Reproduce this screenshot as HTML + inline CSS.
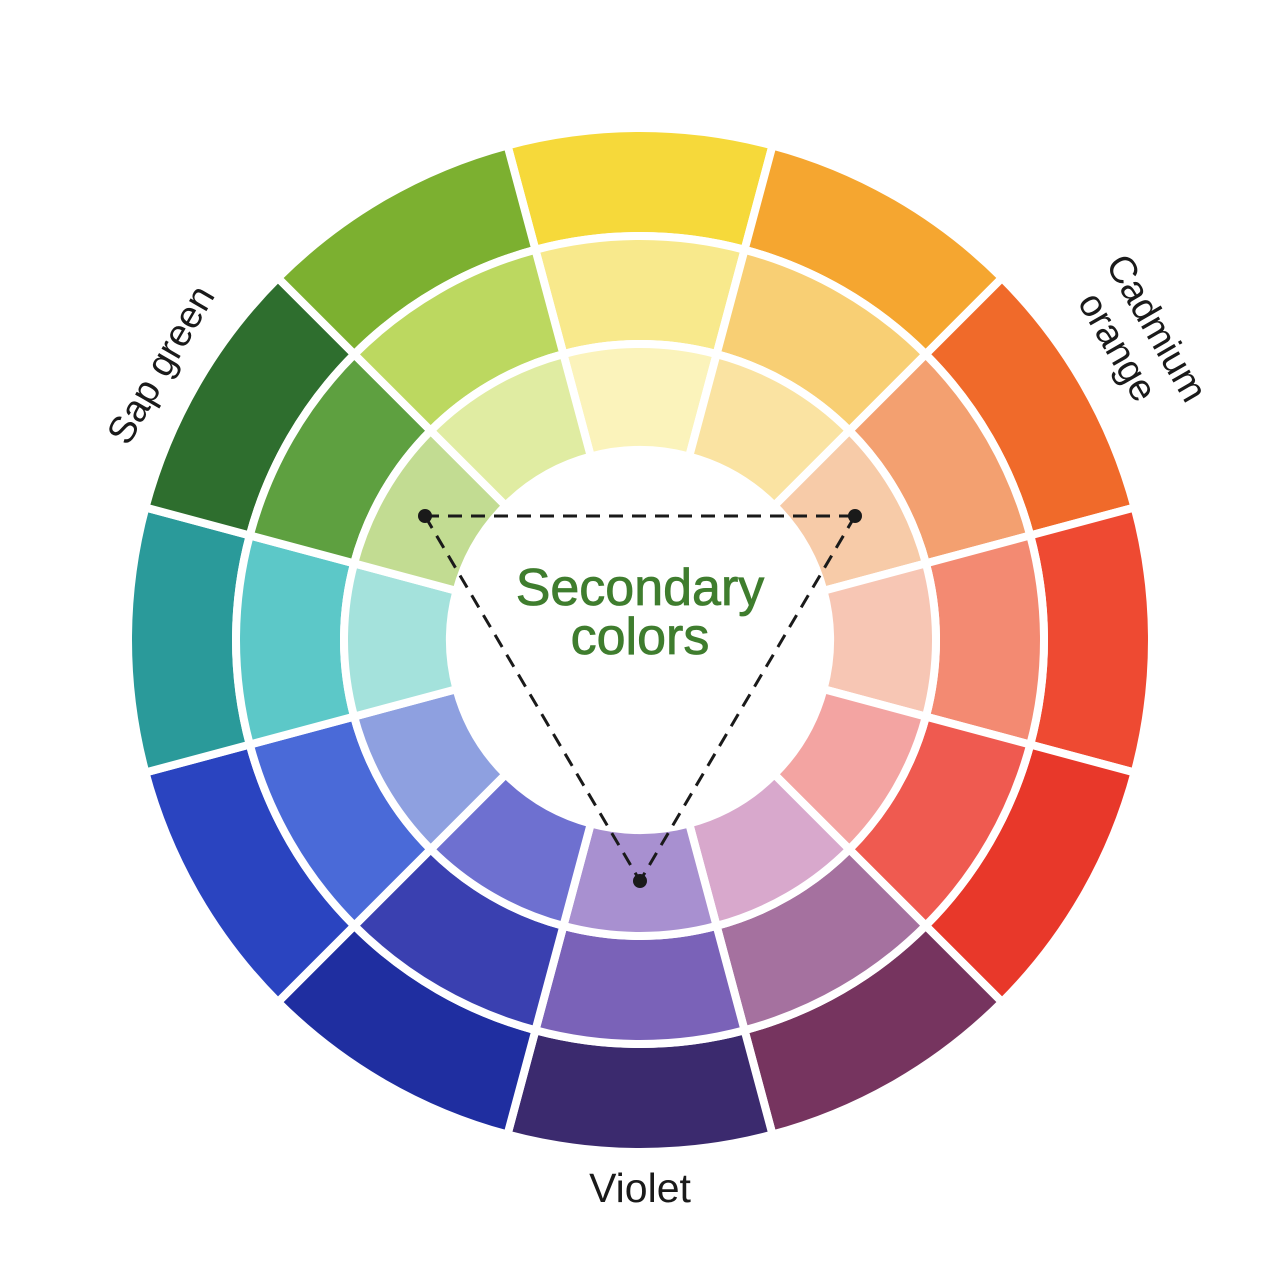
<!DOCTYPE html>
<html><head><meta charset="utf-8"><style>
html,body{margin:0;padding:0;background:#fff;}
svg{display:block;}
text{font-family:"Liberation Sans","DejaVu Sans",sans-serif;}
</style></head><body>
<svg id="s" width="1280" height="1280" viewBox="0 0 1280 1280" xmlns="http://www.w3.org/2000/svg">
<rect width="1280" height="1280" fill="#fff"/>
<g id="wheel"></g>
<g stroke="#1a1a1a" stroke-width="3" stroke-dasharray="14 9" fill="none">
<line x1="425" y1="516" x2="855" y2="516"/>
<line x1="425" y1="516" x2="640" y2="881"/>
<line x1="855" y1="516" x2="640" y2="881"/>
</g>
<circle cx="425" cy="516" r="7" fill="#1a1a1a"/>
<circle cx="855" cy="516" r="7" fill="#1a1a1a"/>
<circle cx="640" cy="881" r="7" fill="#1a1a1a"/>
<text x="640" y="605" text-anchor="middle" font-size="52" fill="#3f7d2e" stroke="#3f7d2e" stroke-width="0.8">Secondary</text>
<text x="640" y="654" text-anchor="middle" font-size="52" fill="#3f7d2e" stroke="#3f7d2e" stroke-width="0.8">colors</text>
<text x="640" y="1202" text-anchor="middle" font-size="41" fill="#1a1a1a">Violet</text>
<text transform="translate(128,447) rotate(-60)" font-size="38" fill="#1a1a1a">Sap green</text>
<text transform="translate(1105,264) rotate(60)" font-size="38" fill="#1a1a1a">Cadmium</text>
<text transform="translate(1077,302) rotate(60)" font-size="38" fill="#1a1a1a">orange</text>
</svg>
<script>
var cols=[
["#f6d93a","#f8e98c","#fbf3bb"],
["#f5a630","#f8cf74","#fae3a2"],
["#f06a2a","#f3a070","#f7cba8"],
["#ee4a32","#f38a72","#f7c6b4"],
["#e8382a","#ef5a50","#f3a4a2"],
["#76345f","#a5719f","#d8a8cc"],
["#3b2a6e","#7a62b8","#a890d0"],
["#1f2ea0","#3a40b0","#6e70d0"],
["#2a44c0","#4a6ad8","#8ea0e0"],
["#2a9a9a","#5cc8c8","#a4e2dc"],
["#2e6e2e","#5ea040","#c2dc92"],
["#7cb030","#bcd860","#e0eca2"]];
var radii=[[404,512],[296,404],[190,296]];
var cx=640,cy=640,g=document.getElementById('wheel'),NS="http://www.w3.org/2000/svg";
function p(r,a){a=a*Math.PI/180;return (cx+r*Math.sin(a)).toFixed(2)+" "+(cy-r*Math.cos(a)).toFixed(2);}
for(var i=0;i<12;i++){var a0=i*30-15,a1=i*30+15;
for(var k=0;k<3;k++){var r0=radii[k][0],r1=radii[k][1];
var d="M"+p(r1,a0)+" A"+r1+" "+r1+" 0 0 1 "+p(r1,a1)+" L"+p(r0,a1)+" A"+r0+" "+r0+" 0 0 0 "+p(r0,a0)+" Z";
var e=document.createElementNS(NS,"path");e.setAttribute("d",d);e.setAttribute("fill",cols[i][k]);
e.setAttribute("stroke","#fff");e.setAttribute("stroke-width","8");g.appendChild(e);}}
</script>
</body></html>
